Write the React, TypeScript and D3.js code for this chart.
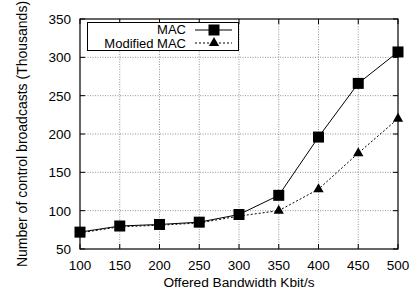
import * as d3 from 'd3';

// chart data
const bandwidth = [100, 150, 200, 250, 300, 350, 400, 450, 500];
const macValues = [72, 80, 82, 85, 95, 120, 196, 266, 307];
const modifiedValues = [71, 79, 81, 84, 93, 100, 128, 175, 220];
const xTicks = [100, 150, 200, 250, 300, 350, 400, 450, 500];
const yTicks = [50, 100, 150, 200, 250, 300, 350];

const W = 419;
const H = 295;
const font = 'Liberation Sans, Arial, Helvetica, sans-serif';

const App = () => {
    const x = d3.scaleLinear().domain([100, 500]).range([80, 398]);
    const y = d3.scaleLinear().domain([50, 350]).range([249, 19]);

    const line = d3.line<number>()
        .x((d, i) => x(bandwidth[i]))
        .y(d => y(d));

    const tri = d3.symbol().type(d3.symbolTriangle).size(46)();

    return (
        <svg width={W} height={H} style={{ position: 'absolute', left: 0, top: 0, background: '#fff' }}>
            {/* grid */}
            {xTicks.slice(1, -1).map(t => (
                <line key={'gx' + t} x1={x(t)} x2={x(t)} y1={y(350)} y2={y(50)}
                    stroke="#777" strokeWidth={0.8} strokeDasharray="1,1.5" />
            ))}
            {yTicks.slice(1, -1).map(t => (
                <line key={'gy' + t} x1={x(100)} x2={x(500)} y1={y(t)} y2={y(t)}
                    stroke="#777" strokeWidth={0.8} strokeDasharray="1,1.5" />
            ))}
            {/* tick marks, inward and mirrored */}
            {xTicks.map(t => (
                <g key={'tx' + t}>
                    <line x1={x(t)} x2={x(t)} y1={y(50)} y2={y(50) - 5} stroke="#000" />
                    <line x1={x(t)} x2={x(t)} y1={y(350)} y2={y(350) + 5} stroke="#000" />
                    <text x={x(t)} y={269.5} textAnchor="middle" fontFamily={font} fontSize={13.5}>{t}</text>
                </g>
            ))}
            {yTicks.map(t => (
                <g key={'ty' + t}>
                    <line x1={x(100)} x2={x(100) + 5} y1={y(t)} y2={y(t)} stroke="#000" />
                    <line x1={x(500)} x2={x(500) - 5} y1={y(t)} y2={y(t)} stroke="#000" />
                    <text x={71} y={y(t) + 5} textAnchor="end" fontFamily={font} fontSize={13.5}>{t}</text>
                </g>
            ))}
            <rect x={x(100)} y={y(350)} width={x(500) - x(100)} height={y(50) - y(350)}
                fill="none" stroke="#000" strokeWidth={1.2} />

            {/* series */}
            <path d={line(modifiedValues) || ''} fill="none" stroke="#000" strokeWidth={1} strokeDasharray="2,2" />
            <path d={line(macValues) || ''} fill="none" stroke="#000" strokeWidth={1} />
            {macValues.map((v, i) => (
                <rect key={'m' + i} x={x(bandwidth[i]) - 5.5} y={y(v) - 5.5} width={11} height={11} fill="#000" />
            ))}
            {modifiedValues.map((v, i) => (
                <path key={'t' + i} d={tri || ''} transform={`translate(${x(bandwidth[i])},${y(v)})`} fill="#000" />
            ))}

            {/* legend */}
            <rect x={87.5} y={22.5} width={151} height={28} fill="#fff" stroke="#000" strokeWidth={1} />
            <text x={186} y={34} textAnchor="end" fontFamily={font} fontSize={13}>MAC</text>
            <line x1={195} x2={232} y1={30} y2={30} stroke="#000" />
            <rect x={208.5} y={24.5} width={11} height={11} fill="#000" />
            <text x={186} y={47.5} textAnchor="end" fontFamily={font} fontSize={13}>Modified MAC</text>
            <line x1={195} x2={232} y1={43} y2={43} stroke="#000" strokeDasharray="2,2" />
            <path d={tri || ''} transform="translate(214,43)" fill="#000" />

            {/* axis titles */}
            <text x={239} y={287} textAnchor="middle" fontFamily={font} fontSize={13.7}>Offered Bandwidth Kbit/s</text>
            <text transform={`translate(27,${(y(50) + y(350)) / 2}) rotate(-90)`} textAnchor="middle"
                fontFamily={font} fontSize={14}>Number of control broadcasts (Thousands)</text>
        </svg>
    );
};

export default App;
